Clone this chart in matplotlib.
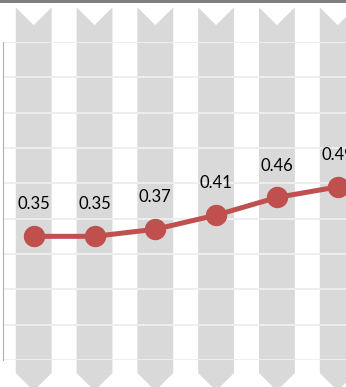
import matplotlib
matplotlib.use("Agg")
import matplotlib.pyplot as plt
import matplotlib.transforms as mtransforms
from matplotlib.patches import Polygon, Rectangle

# series
categories = [0, 1, 2, 3, 4, 5]
values = [0.35, 0.35, 0.37, 0.41, 0.46, 0.49]
y_ticks = [0.0, 0.1, 0.2, 0.3, 0.4, 0.5, 0.6, 0.7, 0.8, 0.9]

LINE_COLOR = "#C0504D"
BAND_COLOR = "#D9D9D9"
GRID_COLOR = "#EEEEEE"
TOP_BAR_COLOR = "#7F7F7F"

W, H = 346, 387
DPI = 100

# chevron band geometry (x in category units, y in axes fraction)
BAND_HALF = 0.295
BAND_TOP = 1.109
BAND_NOTCH = 1.053
BAND_SHOULDER = -0.041
BAND_POINT = -0.097


def main():
    fig = plt.figure(figsize=(W / DPI, H / DPI), dpi=DPI)
    ax = fig.add_axes([3.3 / W, 27 / H, 1 - 3.3 / W, 318 / H])

    # thin dark strip along the top edge
    fig.patches.append(Rectangle((0, 1 - 3.3 / H), 1, 3.3 / H,
                                 transform=fig.transFigure, color=TOP_BAR_COLOR,
                                 lw=0, zorder=0))

    trans = mtransforms.blended_transform_factory(ax.transData, ax.transAxes)
    for c in categories:
        pts = [
            (c - BAND_HALF, BAND_TOP),
            (c, BAND_NOTCH),
            (c + BAND_HALF, BAND_TOP),
            (c + BAND_HALF, BAND_SHOULDER),
            (c, BAND_POINT),
            (c - BAND_HALF, BAND_SHOULDER),
        ]
        ax.add_patch(Polygon(pts, closed=True, transform=trans, facecolor=BAND_COLOR,
                             edgecolor="none", clip_on=False, zorder=0.2))

    ax.plot(categories, values, color=LINE_COLOR, lw=3.6, marker="o",
            markersize=14.4, zorder=3, clip_on=False)

    for c, v in zip(categories, values):
        ax.annotate(f"{v:.2f}", (c, v), xytext=(0, 23), textcoords="offset points",
                    ha="center", va="center", fontsize=12, family="Lato",
                    color="#000000", zorder=4)

    ax.set_xlim(-0.5, 5.136)
    ax.set_ylim(0, 0.9)
    ax.set_yticks(y_ticks)
    ax.set_xticks([])
    ax.tick_params(left=False, labelleft=False)
    ax.grid(axis="y", color=GRID_COLOR, lw=1.4, zorder=0.5)
    for side in ("top", "right", "bottom"):
        ax.spines[side].set_visible(False)
    ax.spines["left"].set_color("#B0B0B0")
    ax.spines["left"].set_linewidth(0.8)
    ax.patch.set_alpha(0)

    fig.savefig("out.png", dpi=DPI)


if __name__ == "__main__":
    main()
